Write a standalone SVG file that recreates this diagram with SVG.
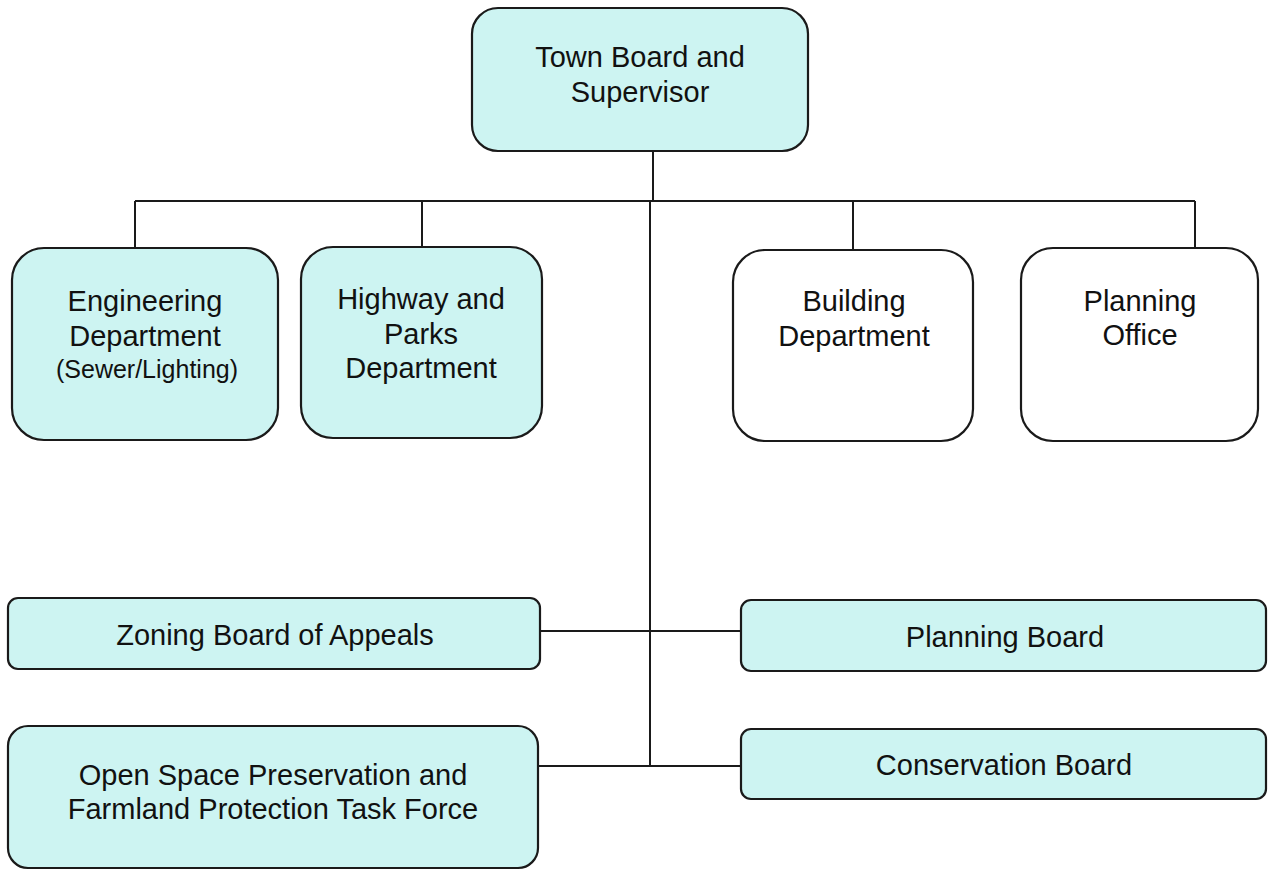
<svg xmlns="http://www.w3.org/2000/svg" width="1270" height="871" viewBox="0 0 1270 871">
<style>
.box{fill:#cdf4f2;stroke:#1a1a1a;stroke-width:2.2}
.wbox{fill:#ffffff;stroke:#1a1a1a;stroke-width:2.2}
.t{font-family:"Liberation Sans",Arial,sans-serif;font-size:29px;fill:#111;text-anchor:middle}
.s{font-size:25px}
.c{fill:none;stroke:#1a1a1a;stroke-width:2}
</style>
<rect width="1270" height="871" fill="#ffffff"/>
<g id="connectors">
<path class="c" d="M653 151 V201 M650 201 V766"/>
<path class="c" d="M135 201 H1195 M135 201 V248 M422 201 V247 M853 201 V250 M1195 201 V248"/>
<path class="c" d="M540 631 H741 M538 766 H741"/>
</g>
<g id="town-board">
<rect class="box" x="472" y="8" width="336" height="143" rx="26"/>
<text class="t" x="640" y="67">Town Board and</text>
<text class="t" x="640" y="102">Supervisor</text>
</g>
<g id="engineering">
<rect class="box" x="12" y="248" width="266" height="192" rx="32"/>
<text class="t" x="145" y="311">Engineering</text>
<text class="t" x="145" y="346">Department</text>
<text class="t s" x="147" y="378">(Sewer/Lighting)</text>
</g>
<g id="highway">
<rect class="box" x="301" y="247" width="241" height="191" rx="32"/>
<text class="t" x="421" y="309">Highway and</text>
<text class="t" x="421" y="344">Parks</text>
<text class="t" x="421" y="378">Department</text>
</g>
<g id="building">
<rect class="wbox" x="733" y="250" width="240" height="191" rx="32"/>
<text class="t" x="854" y="311">Building</text>
<text class="t" x="854" y="346">Department</text>
</g>
<g id="planning-office">
<rect class="wbox" x="1021" y="248" width="237" height="193" rx="32"/>
<text class="t" x="1140" y="311">Planning</text>
<text class="t" x="1140" y="345">Office</text>
</g>
<g id="zoning">
<rect class="box" x="8" y="598" width="532" height="71" rx="10"/>
<text class="t" x="275" y="645">Zoning Board of Appeals</text>
</g>
<g id="planning-board">
<rect class="box" x="741" y="600" width="525" height="71" rx="10"/>
<text class="t" x="1005" y="647">Planning Board</text>
</g>
<g id="open-space">
<rect class="box" x="8" y="726" width="530" height="142" rx="20"/>
<text class="t" x="273" y="785">Open Space Preservation and</text>
<text class="t" x="273" y="819">Farmland Protection Task Force</text>
</g>
<g id="conservation">
<rect class="box" x="741" y="729" width="525" height="70" rx="10"/>
<text class="t" x="1004" y="775">Conservation Board</text>
</g>
</svg>
